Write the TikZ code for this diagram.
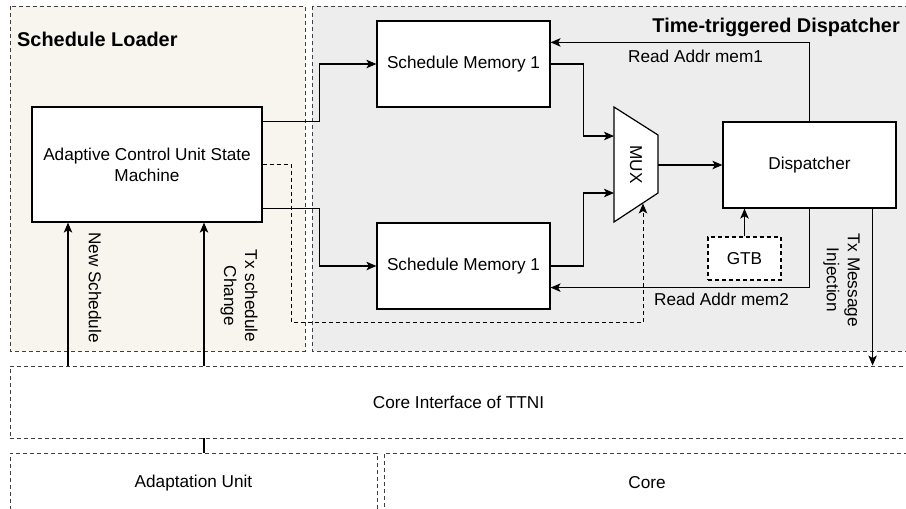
\documentclass[tikz,border=0pt]{standalone}
\usepackage{fontspec}
\setmainfont{Liberation Sans}
\usetikzlibrary{arrows.meta, calc}
\definecolor{sand}{HTML}{F8F5EE}
\definecolor{grayp}{HTML}{EDEDED}

\begin{document}
\begin{tikzpicture}[x=1pt, y=-1pt,
  txt/.style={font=\fontsize{17.2}{21}\selectfont},
  blk/.style={draw, line width=1.2pt, fill=white, txt, align=center, inner sep=0pt},
  panel/.style={draw=black!75, line width=0.9pt, dash pattern=on 4pt off 3pt},
  ttl/.style={font=\fontsize{19.9}{24}\selectfont\bfseries, inner sep=0pt},
  arr/.style={line width=1.2pt, -{Stealth[length=10pt, width=8.5pt, inset=2.5pt]}},
  vlbl/.style={txt, rotate=-90, align=center, inner sep=0pt}
]
\useasboundingbox (0,0) rectangle (906,509);
\clip (0,0) rectangle (906,509);

\path[panel, fill=sand] (10,6) rectangle (305,351);
\path[panel, fill=grayp] (312,6) rectangle (920,351);
\node[ttl, anchor=base west] (slt) at (17,46) {Schedule Loader};
\node[ttl, anchor=base east] (tdt) at (900,32) {Time-triggered Dispatcher};

\node[blk, minimum width=230pt, minimum height=115pt] (acu) at (147,164.5) {Adaptive Control Unit State\\Machine};
\node[blk, minimum width=173pt, minimum height=86pt] (sm1) at (463.5,64) {Schedule Memory 1};
\node[blk, minimum width=173pt, minimum height=86pt] (sm2) at (463.5,266) {Schedule Memory 1};
\node[blk, minimum width=173pt, minimum height=86pt] (disp) at (809.5,165) {Dispatcher};
\node[blk, dash pattern=on 4pt off 3pt, minimum width=73pt, minimum height=43pt] (gtb) at (744.5,258.5) {GTB};

\draw[line width=1.2pt, fill=white] (614,107) -- (658,135) -- (658,193) -- (614,222) -- cycle;
\node[vlbl] (mux) at (636,164.5) {MUX};
\coordinate (muxa) at (614,136);
\coordinate (muxb) at (614,193);
\coordinate (muxo) at (658,165);
\coordinate (muxs) at (643,203.5);

\node[panel, txt, minimum width=897pt, minimum height=72pt, inner sep=0pt] (cif) at (458.5,402) {Core Interface of TTNI};
\node[panel, txt, minimum width=367pt, minimum height=60pt, inner sep=0pt] (adu) at (193.5,483) {Adaptation Unit};
\node[panel, txt, minimum width=526pt, minimum height=60pt, inner sep=0pt] (core) at (647,483) {Core};

\draw[arr] ($(acu.north east)+(0,15)$) -- ++(57,0) |- (sm1.west);
\draw[arr] ($(acu.south east)+(0,-14)$) -- ++(57,0) |- (sm2.west);
\draw[arr, line width=1pt, dash pattern=on 4pt off 3pt] (acu.east) -- ++(29,0) -- ++(0,158) -| (muxs);
\draw[arr] (sm1.east) -- ++(33,0) |- (muxa);
\draw[arr] (sm2.east) -- ++(33,0) |- (muxb);
\draw[arr] (muxo) -- (disp.west);
\draw[arr] (disp.north) |- ($(sm1.north east)+(0,22)$) node[pos=0.72, below=4pt, txt] (ra1) {Read Addr mem1};
\draw[arr] (disp.south) |- ($(sm2.south east)+(0,-22)$) node[pos=0.67, below=1pt, txt] (ra2) {Read Addr mem2};
\draw[arr] (gtb.north) -- (gtb.north |- disp.south);

\coordinate (txm) at ($(disp.south east)+(-24,0)$);
\draw[arr] (txm) -- (txm |- cif.north);
\node[vlbl] (txl) at (841.5,280) {Tx Message\\Injection};

\coordinate (nsx) at (68,366);
\coordinate (tsx) at (204,366);
\draw[arr] (nsx) -- (nsx |- acu.south);
\draw[arr] (tsx) -- (tsx |- acu.south);
\node[vlbl] (nsl) at (95,287.5) {New Schedule};
\node[vlbl] (tsl) at (239,296) {Tx schedule\\Change};
\draw[line width=1.2pt] (cif.south -| tsx) -- (adu.north -| tsx);
\end{tikzpicture}
\end{document}
